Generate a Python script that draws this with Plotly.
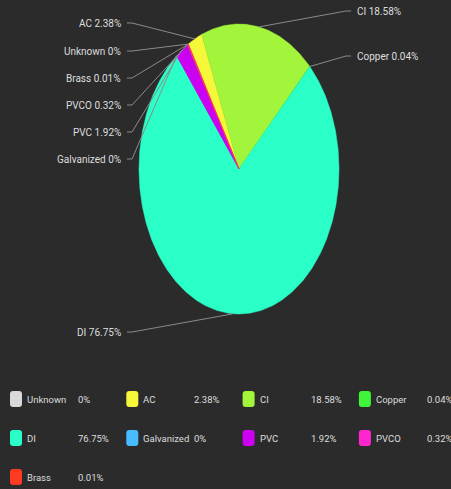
import math
import plotly.graph_objects as go

# ---- data ----
categories = ["Unknown", "AC", "CI", "Copper", "DI", "Galvanized", "PVC", "PVCO", "Brass"]
percents = [0, 2.38, 18.58, 0.04, 76.75, 0, 1.92, 0.32, 0.01]
colors = ["#d9d9d9", "#f7f73a", "#a2f53a", "#3ff53a", "#2affc8", "#47bdff", "#cc00f2", "#ff26cf", "#ff3a22"]

# ---- layout constants ----
W, H = 451, 489
BG = "#2b2b2b"
CX, CY, RX, RY = 239, 169, 100, 145
START_DEG = -30.5
FONT = "Roboto, Liberation Sans, sans-serif"
LABEL_SIZE = 10
LEGEND_SIZE = 9.5
LABEL_COLOR = "#dedede"
LINE_COLOR = "#8a8a8a"
left_label_y = {"AC": 23, "Unknown": 51, "Brass": 78, "PVCO": 105, "PVC": 132, "Galvanized": 159, "DI": 332}
right_label_y = {"CI": 11, "Copper": 56}
LEFT_TEXT_X, RIGHT_TEXT_X = 123, 355


def edge_point(deg):
    t = math.radians(deg)
    return CX + RX * math.sin(t), CY - RY * math.cos(t)


def fmt(v):
    return f"{v:g}"


fig = go.Figure()
total = sum(percents)
annotations = []
shapes = []
lx, ly = [], []

acc = 0.0
for cat, val, col in zip(categories, percents, colors):
    a0 = START_DEG + acc / total * 360
    a1 = START_DEG + (acc + val) / total * 360
    acc += val
    if val > 0:
        n = max(2, int((a1 - a0) / 0.5) + 2)
        xs, ys = [CX], [CY]
        for i in range(n):
            px, py = edge_point(a0 + (a1 - a0) * i / (n - 1))
            xs.append(px)
            ys.append(py)
        xs.append(CX)
        ys.append(CY)
        fig.add_trace(go.Scatter(x=xs, y=ys, mode="lines", fill="toself", fillcolor=col,
                                 line=dict(color=col, width=0.5), hoverinfo="skip",
                                 showlegend=False))
    mx, my = edge_point((a0 + a1) / 2)
    text = f"{cat} {fmt(val)}%"
    if cat in left_label_y:
        y = left_label_y[cat]
        annotations.append(dict(x=LEFT_TEXT_X, y=y, xref="x", yref="y", text=text, showarrow=False,
                                xanchor="right", yanchor="middle",
                                font=dict(family=FONT, size=LABEL_SIZE, color=LABEL_COLOR)))
        lx += [LEFT_TEXT_X + 4, LEFT_TEXT_X + 9, mx, None]
        ly += [y, y, my, None]
    else:
        y = right_label_y[cat]
        annotations.append(dict(x=RIGHT_TEXT_X, y=y, xref="x", yref="y", text=text, showarrow=False,
                                xanchor="left", yanchor="middle",
                                font=dict(family=FONT, size=LABEL_SIZE, color=LABEL_COLOR)))
        lx += [RIGHT_TEXT_X - 4, RIGHT_TEXT_X - 9, mx, None]
        ly += [y, y, my, None]

fig.add_trace(go.Scatter(x=lx, y=ly, mode="lines", line=dict(color=LINE_COLOR, width=1),
                         hoverinfo="skip", showlegend=False))

# ---- custom legend grid ----
COL_X0, COL_PITCH = 10, 116.3
ROW_Y = [399, 438, 477]
SW_W, SW_H, SW_R = 12, 16, 3
for i, (cat, val, col) in enumerate(zip(categories, percents, colors)):
    r, c = divmod(i, 4)
    x0 = COL_X0 + c * COL_PITCH
    yc = ROW_Y[r]
    x1 = x0 + SW_W
    y0, y1 = yc - SW_H / 2, yc + SW_H / 2
    path = (f"M{x0 + SW_R},{y0} L{x1 - SW_R},{y0} Q{x1},{y0} {x1},{y0 + SW_R} "
            f"L{x1},{y1 - SW_R} Q{x1},{y1} {x1 - SW_R},{y1} L{x0 + SW_R},{y1} "
            f"Q{x0},{y1} {x0},{y1 - SW_R} L{x0},{y0 + SW_R} Q{x0},{y0} {x0 + SW_R},{y0} Z")
    shapes.append(dict(type="path", path=path, xref="x", yref="y", fillcolor=col,
                       line=dict(width=0), layer="above"))
    annotations.append(dict(x=x0 + 15, y=yc, xref="x", yref="y", text=cat, showarrow=False,
                            xanchor="left", yanchor="middle",
                            font=dict(family=FONT, size=LEGEND_SIZE, color=LABEL_COLOR)))
    annotations.append(dict(x=x0 + 66, y=yc, xref="x", yref="y", text=f"{fmt(val)}%", showarrow=False,
                            xanchor="left", yanchor="middle",
                            font=dict(family=FONT, size=LEGEND_SIZE, color=LABEL_COLOR)))

fig.update_layout(
    width=W, height=H,
    margin=dict(l=0, r=0, t=0, b=0),
    paper_bgcolor=BG, plot_bgcolor=BG,
    xaxis=dict(range=[0, W], visible=False, fixedrange=True),
    yaxis=dict(range=[H, 0], visible=False, fixedrange=True),
    annotations=annotations,
    shapes=shapes,
    showlegend=False,
)

fig.write_html("out.html", config={"displayModeBar": False})
